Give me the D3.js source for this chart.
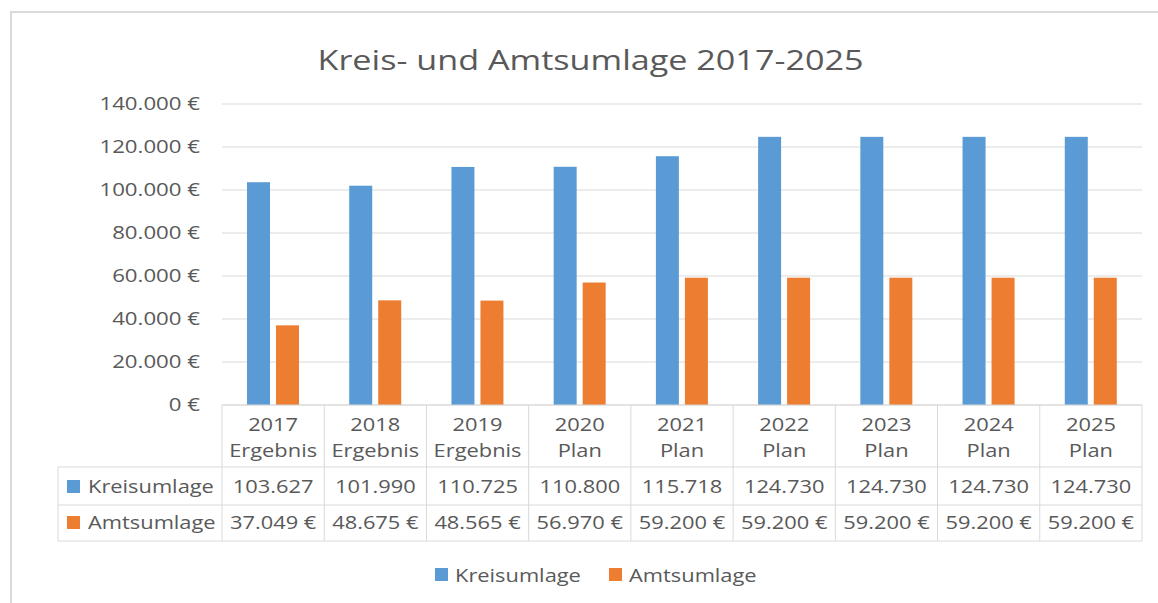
<!DOCTYPE html>
<html>
<head>
<meta charset="utf-8">
<script src="https://cdn.jsdelivr.net/npm/d3@7"></script>
<style>
  html, body { margin: 0; padding: 0; background: #fff; }
  svg { display: block; }
  text { font-family: "Open Sans", "Noto Sans", sans-serif; fill: #595959; }
</style>
</head>
<body>
<svg id="chart" width="1158" height="603"></svg>
<script>
const categories = ["2017", "2018", "2019", "2020", "2021", "2022", "2023", "2024", "2025"];
const subLabels = ["Ergebnis", "Ergebnis", "Ergebnis", "Plan", "Plan", "Plan", "Plan", "Plan", "Plan"];
const seriesNames = ["Kreisumlage", "Amtsumlage"];
const kreisumlage = [103627, 101990, 110725, 110800, 115718, 124730, 124730, 124730, 124730];
const amtsumlage = [37049, 48675, 48565, 56970, 59200, 59200, 59200, 59200, 59200];
const kreisLabels = ["103.627", "101.990", "110.725", "110.800", "115.718", "124.730", "124.730", "124.730", "124.730"];
const amtsLabels = ["37.049 €", "48.675 €", "48.565 €", "56.970 €", "59.200 €", "59.200 €", "59.200 €", "59.200 €", "59.200 €"];
const yTicks = [0, 20000, 40000, 60000, 80000, 100000, 120000, 140000];
const colors = ["#5B9BD5", "#ED7D31"];

(function () {
const svg = d3.select("#chart");
const grid = "#D9D9D9";

function addText(parent, x, y, str, size, anchor, sx) {
  return parent.append("text")
    .attr("transform", `translate(${x},${y}) scale(${sx},1)`)
    .attr("text-anchor", anchor || "start")
    .style("font-size", size + "px")
    .text(str);
}

// outer frame
svg.append("path").attr("d", "M11,603 V12 H1158").attr("fill", "none")
  .attr("stroke", grid).attr("stroke-width", 2);

// title
addText(svg, 590.5, 70, "Kreis- und Amtsumlage 2017-2025", 28, "middle", 1.22);

const pLeft = 222, pRight = 1142, pTop = 104, pBottom = 405;
const x = d3.scaleBand().domain(categories).range([pLeft, pRight]).padding(0);
const x1 = d3.scaleBand().domain(seriesNames).range([25, 77]).paddingInner(0.207).paddingOuter(0);
const y = d3.scaleLinear().domain([0, 140000]).range([pBottom, pTop]);

// gridlines
svg.append("g").selectAll("line").data(yTicks).join("line")
  .attr("x1", pLeft).attr("x2", pRight)
  .attr("y1", d => y(d)).attr("y2", d => y(d))
  .attr("stroke", grid).attr("stroke-width", 1);

// y axis
const ySx = 1.27;
const fmt = v => d3.format(",")(v).replace(/,/g, ".") + " €";
const yAxis = d3.axisLeft(y).tickValues(yTicks).tickFormat(fmt).tickSize(0).tickPadding(22);
const ga = svg.append("g").attr("transform", `translate(${pLeft},0)`).call(yAxis);
ga.select(".domain").remove();
ga.selectAll("text")
  .style("font-size", "17.5px").style("font-family", "\"Open Sans\", sans-serif")
  .attr("fill", "#595959")
  .attr("x", -22 / ySx)
  .attr("transform", `scale(${ySx},1)`);

// bars
const data = categories.map((c, i) => ({ c, vals: [kreisumlage[i], amtsumlage[i]] }));
const groups = svg.append("g").selectAll("g").data(data).join("g")
  .attr("transform", d => `translate(${x(d.c)},0)`);
groups.selectAll("rect").data(d => d.vals.map((v, k) => ({ s: seriesNames[k], v, k }))).join("rect")
  .attr("x", d => x1(d.s)).attr("width", x1.bandwidth())
  .attr("y", d => y(d.v)).attr("height", d => y(0) - y(d.v))
  .attr("fill", d => colors[d.k]);

// data table
const rowY = [405, 467, 505, 541];
const tableLeft = 58;
const tg = svg.append("g");
tg.append("line").attr("x1", pLeft).attr("x2", pRight).attr("y1", rowY[0]).attr("y2", rowY[0]).attr("stroke", grid);
[rowY[1], rowY[2], rowY[3]].forEach(yy => {
  tg.append("line").attr("x1", tableLeft).attr("x2", pRight).attr("y1", yy).attr("y2", yy).attr("stroke", grid);
});
const bounds = categories.map(c => x(c)).concat([pRight]);
bounds.forEach(bx => {
  tg.append("line").attr("x1", bx).attr("x2", bx).attr("y1", rowY[0]).attr("y2", rowY[3]).attr("stroke", grid);
});
tg.append("line").attr("x1", tableLeft).attr("x2", tableLeft).attr("y1", rowY[1]).attr("y2", rowY[3]).attr("stroke", grid);

const fs = 19, sx = 1.15;
categories.forEach((c, i) => {
  const cx = x(c) + x.bandwidth() / 2;
  addText(tg, cx, 431, c, fs, "middle", sx);
  addText(tg, cx, 457, subLabels[i], fs, "middle", sx);
  addText(tg, cx, 493, kreisLabels[i], fs, "middle", sx);
  addText(tg, cx, 529, amtsLabels[i], fs, "middle", sx);
});
[[493, 0], [529, 1]].forEach(([by, k]) => {
  tg.append("rect").attr("x", 67).attr("y", by - 13).attr("width", 13).attr("height", 13).attr("fill", colors[k]);
  addText(tg, 88, by, seriesNames[k], fs, "start", sx);
});

// bottom legend
const legend = [{ x: 435, k: 0 }, { x: 609, k: 1 }];
legend.forEach(l => {
  svg.append("rect").attr("x", l.x).attr("y", 568).attr("width", 13).attr("height", 13).attr("fill", colors[l.k]);
  addText(svg, l.x + 20, 582, seriesNames[l.k], fs, "start", sx);
});
})();
</script>
</body>
</html>
